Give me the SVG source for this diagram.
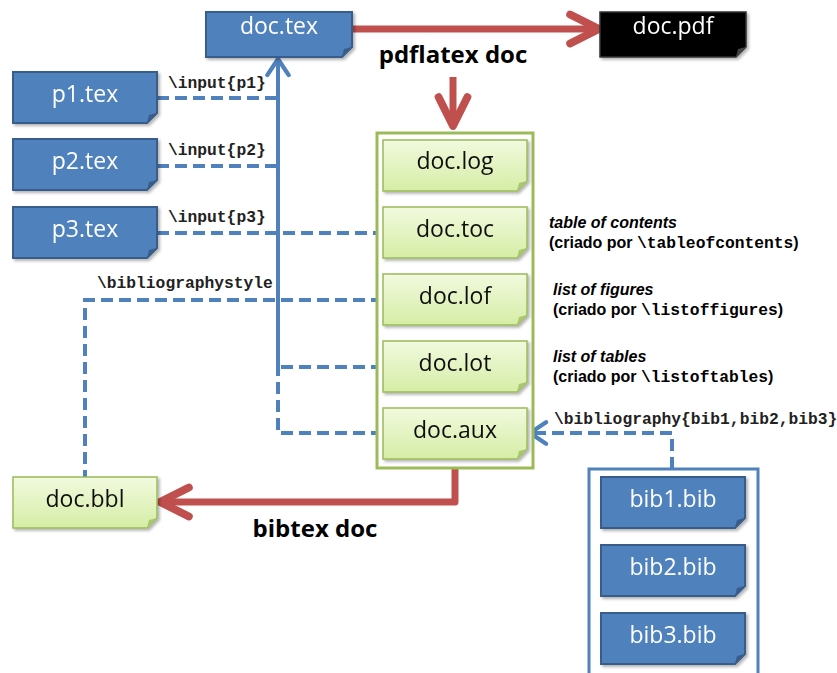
<svg xmlns="http://www.w3.org/2000/svg" xmlns:xlink="http://www.w3.org/1999/xlink" width="837" height="673" viewBox="0 0 837 673">
<style>
.lbl{font-family:"Open Sans","Liberation Sans",sans-serif;font-size:23px;text-anchor:middle}
.wt{fill:#ffffff}
.bk{fill:#111111}
.mono{font-family:"Liberation Mono","DejaVu Sans Mono",monospace;font-size:16.3px;fill:#222222;font-weight:bold}
.note{font-family:"Liberation Sans",Arial,sans-serif;font-size:16px;font-weight:bold;fill:#000}
.big{font-family:"Open Sans","Liberation Sans",sans-serif;font-size:24px;font-weight:bold;fill:#000;text-anchor:middle}
.dash{fill:none;stroke:#4f81bd;stroke-width:4;stroke-dasharray:12 6}
.solid{fill:none;stroke:#4f81bd;stroke-width:4}
.red{fill:none;stroke:#c0504d;stroke-width:7}
</style>
<defs>
<linearGradient id="gg" x1="0" y1="0" x2="0" y2="1">
<stop offset="0" stop-color="#f2fadf"/>
<stop offset="1" stop-color="#d5eda5"/>
</linearGradient>
<filter id="sh" x="-10%" y="-10%" width="125%" height="135%">
<feDropShadow dx="2" dy="2" stdDeviation="1.5" flood-color="#000" flood-opacity="0.3"/>
</filter>
<g id="blue">
<path d="M0,0 H144 V41 L134,51 H0 Z" fill="#4f81bd" stroke="#385d8a" stroke-width="2"/>
<path d="M134,51 L136,43 L144,41 Z" fill="#385d8a"/>
</g>
<g id="green">
<path d="M0,0 H144 V41 L134,51 H0 Z" fill="url(#gg)" stroke="#9bbb59" stroke-width="1.5"/>
<path d="M134,51 L136,43 L144,41 Z" fill="#a9c76c"/>
</g>
<marker id="ar" markerUnits="userSpaceOnUse" markerWidth="40" markerHeight="40" viewBox="-32 -18 36 36" refX="0" refY="0" orient="auto" overflow="visible">
<path d="M-26,-13 L0,0 L-26,13" fill="none" stroke="#c0504d" stroke-width="7" stroke-linecap="round" stroke-linejoin="round"/>
</marker>
<marker id="ab" markerUnits="userSpaceOnUse" markerWidth="30" markerHeight="30" viewBox="-20 -14 24 28" refX="0" refY="0" orient="auto" overflow="visible">
<path d="M-15,-10 L0,0 L-15,10" fill="none" stroke="#4f81bd" stroke-width="4" stroke-linecap="round" stroke-linejoin="round"/>
</marker>
</defs>
<rect width="837" height="673" fill="#ffffff"/>

<g id="connectors">
<path class="dash" d="M157,98 H278"/>
<path class="dash" d="M157,166 H278"/>
<path class="dash" d="M157,233 H383"/>
<path class="dash" d="M383,300 H85 V477"/>
<path class="dash" d="M383,367 H278"/>
<path class="dash" d="M383,433 H278 V367"/>
<path class="solid" d="M278,367 V59" marker-end="url(#ab)"/>
<path class="dash" d="M672,469 V433 H530" marker-end="url(#ab)"/>
<path class="red" d="M352,29 H599" marker-end="url(#ar)"/>
<path class="red" d="M453,77 V126" marker-end="url(#ar)"/>
<path class="red" d="M455,460 V502 H160" stroke-linejoin="round" marker-end="url(#ar)"/>
</g>

<g id="labels">
<text class="mono" x="168" y="88">\input{p1}</text>
<text class="mono" x="168" y="155">\input{p2}</text>
<text class="mono" x="168" y="222">\input{p3}</text>
<text class="mono" x="97" y="288">\bibliographystyle</text>
<text class="mono" x="554" y="424">\bibliography{bib1,bib2,bib3}</text>
<text class="big" x="453" y="63">pdflatex doc</text>
<text class="big" x="315" y="537">bibtex doc</text>
<text class="note" x="549" y="228" font-style="italic">table of contents</text>
<text class="note" x="549" y="248">(criado por <tspan class="mono" style="fill:#000">\tableofcontents</tspan>)</text>
<text class="note" x="553" y="295" font-style="italic">list of figures</text>
<text class="note" x="553" y="315">(criado por <tspan class="mono" style="fill:#000">\listoffigures</tspan>)</text>
<text class="note" x="553" y="362" font-style="italic">list of tables</text>
<text class="note" x="553" y="382">(criado por <tspan class="mono" style="fill:#000">\listoftables</tspan>)</text>
</g>

<g id="doc-tex" filter="url(#sh)">
<path d="M206,12 H352 V47 L342,57 H206 Z" fill="#4f81bd" stroke="#385d8a" stroke-width="2"/>
<path d="M342,57 L344,49 L352,47 Z" fill="#385d8a"/>
<text class="lbl wt" x="279" y="34">doc.tex</text>
</g>
<g id="doc-pdf" filter="url(#sh)">
<path d="M600,12 H746 V47 L736,57 H600 Z" fill="#000000" stroke="#333333" stroke-width="1.5"/>
<path d="M736,57 L738,49 L746,47 Z" fill="#444444"/>
<text class="lbl wt" x="673" y="34">doc.pdf</text>
</g>

<g id="p1-tex" filter="url(#sh)" transform="translate(13,72)"><use href="#blue"/><text class="lbl wt" x="72" y="30">p1.tex</text></g>
<g id="p2-tex" filter="url(#sh)" transform="translate(13,139)"><use href="#blue"/><text class="lbl wt" x="72" y="30">p2.tex</text></g>
<g id="p3-tex" filter="url(#sh)" transform="translate(13,207)"><use href="#blue"/><text class="lbl wt" x="72" y="30">p3.tex</text></g>

<g id="aux-files">
<rect x="377" y="133" width="156" height="335" fill="#ffffff" stroke="#9bbb59" stroke-width="3"/>
<g id="doc-log" filter="url(#sh)" transform="translate(383,140)"><use href="#green"/><text class="lbl bk" x="72" y="29">doc.log</text></g>
<g id="doc-toc" filter="url(#sh)" transform="translate(383,207)"><use href="#green"/><text class="lbl bk" x="72" y="30">doc.toc</text></g>
<g id="doc-lof" filter="url(#sh)" transform="translate(383,274)"><use href="#green"/><text class="lbl bk" x="72" y="30">doc.lof</text></g>
<g id="doc-lot" filter="url(#sh)" transform="translate(383,341)"><use href="#green"/><text class="lbl bk" x="72" y="30">doc.lot</text></g>
<g id="doc-aux" filter="url(#sh)" transform="translate(383,408)"><use href="#green"/><text class="lbl bk" x="72" y="30">doc.aux</text></g>
</g>

<g id="doc-bbl" filter="url(#sh)" transform="translate(13,477)"><use href="#green"/><text class="lbl bk" x="72" y="30">doc.bbl</text></g>

<g id="bib-files">
<rect x="589" y="469" width="169" height="230" fill="#ffffff" stroke="#4f81bd" stroke-width="3"/>
<g id="bib1" filter="url(#sh)" transform="translate(601,477)"><use href="#blue"/><text class="lbl wt" x="72" y="30">bib1.bib</text></g>
<g id="bib2" filter="url(#sh)" transform="translate(601,545)"><use href="#blue"/><text class="lbl wt" x="72" y="30">bib2.bib</text></g>
<g id="bib3" filter="url(#sh)" transform="translate(601,613)"><use href="#blue"/><text class="lbl wt" x="72" y="30">bib3.bib</text></g>
</g>
</svg>
